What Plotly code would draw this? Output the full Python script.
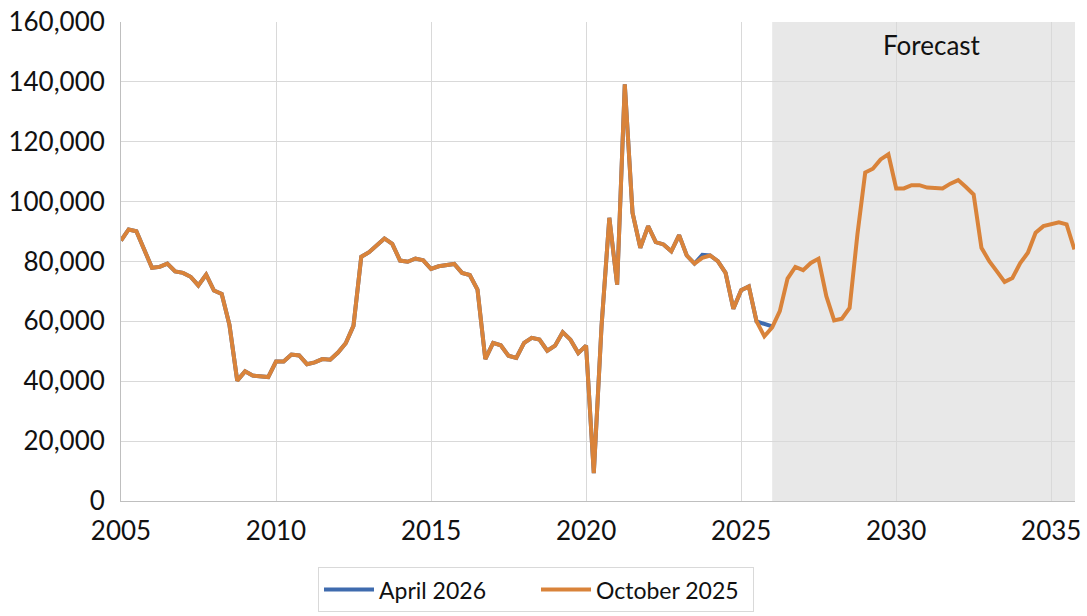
import pandas as pd
import plotly.graph_objects as go

# Quarterly periods, 2005Q1 .. 2035Q4
quarters = pd.date_range("2005-01-01", periods=124, freq="QS")

october_2025 = [
    87000, 90700, 90100, 83600, 77900, 78200, 79300, 76700, 76200, 74900,
    72000, 75600, 70300, 69200, 58900, 40200, 43300, 41900, 41800, 41400,
    46600, 46600, 48900, 48600, 45700, 46300, 47400, 47200, 49600, 52700,
    58500, 81600, 83100, 85300, 87700, 85900, 80300, 79900, 81000, 80400,
    77500, 78400, 78700, 79200, 76200, 75500, 70600, 47400, 52800, 52000,
    48500, 47800, 52800, 54500, 53900, 50200, 51900, 56400, 53900, 49400,
    51900, 9300, 58300, 94600, 72300, 139200, 96300, 84600, 91800, 86500,
    85700, 83400, 88800, 82000, 79300, 81200, 82000, 80100, 76200, 64200,
    70400, 71700, 60000, 55000, 58000, 63400, 74300, 78200, 77100, 79500,
    80900, 68400, 60300, 60900, 64500, 89000, 109700, 111000, 114100, 115800,
    104400, 104400, 105500, 105500, 104700, 104700, 104400, 106000, 107200, 104900,
    102400, 84600, 80100, 76700, 73200, 74500, 79500, 82900, 89600, 91800,
    92400, 93100, 92400, 84000,
]

april_2026 = [
    87000, 90700, 90100, 83600, 77900, 78200, 79300, 76700, 76200, 74900,
    72000, 75600, 70300, 69200, 58900, 40200, 43300, 41900, 41800, 41400,
    46600, 46600, 48900, 48600, 45700, 46300, 47400, 47200, 49600, 52700,
    58500, 81600, 83100, 85300, 87700, 85900, 80300, 79900, 81000, 80400,
    77500, 78400, 78700, 79200, 76200, 75500, 70600, 47400, 52800, 52000,
    48500, 47800, 52800, 54500, 53900, 50200, 51900, 56400, 53900, 49400,
    51900, 9300, 58300, 94600, 72300, 139200, 96300, 84600, 91800, 86500,
    85700, 83400, 88800, 82000, 79300, 82200, 82000, 80100, 76200, 64200,
    70400, 71700, 60000, 59200, 58300,
]

forecast_start = "2026-01-01"
x_range = ["2005-01-01", "2035-10-08"]
y_ticks = [0, 20000, 40000, 60000, 80000, 100000, 120000, 140000, 160000]

FONT = "Lato"
BLUE = "#3F6BAE"
ORANGE = "#D9833A"

fig = go.Figure()
fig.add_trace(go.Scatter(
    x=quarters[:len(april_2026)], y=april_2026, mode="lines", name="April 2026",
    line=dict(color=BLUE, width=4),
))
fig.add_trace(go.Scatter(
    x=quarters, y=october_2025, mode="lines", name="October 2025",
    line=dict(color=ORANGE, width=4),
))

fig.add_shape(type="rect", xref="x", yref="paper", x0=forecast_start, x1=x_range[1],
              y0=0, y1=1, fillcolor="#E8E8E8", line=dict(width=0), layer="below")

fig.add_annotation(x="2031-03-01", y=1, xref="x", yref="paper", yanchor="top",
                   yshift=-5, text="Forecast", showarrow=False,
                   font=dict(family=FONT, size=26, color="#111111"))

fig.update_layout(
    width=1087, height=616,
    margin=dict(l=121, r=12, t=22, b=115, autoexpand=False),
    paper_bgcolor="white", plot_bgcolor="rgba(0,0,0,0)",
    font=dict(family=FONT, size=26, color="#111111"),
    showlegend=True,
    legend=dict(orientation="h", x=0.2065, xanchor="left", y=-0.138, yanchor="top",
                bordercolor="#D9D9D9", borderwidth=1, font=dict(size=23),
                itemwidth=50, entrywidth=152, traceorder="normal"),
)
fig.update_xaxes(
    type="date", range=x_range, dtick="M60", tick0="2005-01-01", tickformat="%Y",
    showgrid=True, gridcolor="#D9D9D9", gridwidth=1, automargin=False,
    showline=True, linecolor="#BFBFBF", mirror=False,
    ticks="", tickfont=dict(size=26), ticklabelstandoff=7,
)
fig.update_yaxes(
    range=[0, 160000], tickvals=y_ticks, tickformat=",", automargin=False,
    showgrid=True, gridcolor="#D9D9D9", gridwidth=1,
    showline=True, linecolor="#BFBFBF", zeroline=False,
    ticks="", ticklabelstandoff=10, tickfont=dict(size=26),
)

fig.write_html("out.html", config={"displayModeBar": False},
               post_script="document.body.style.margin='0';document.body.style.overflow='hidden';")
